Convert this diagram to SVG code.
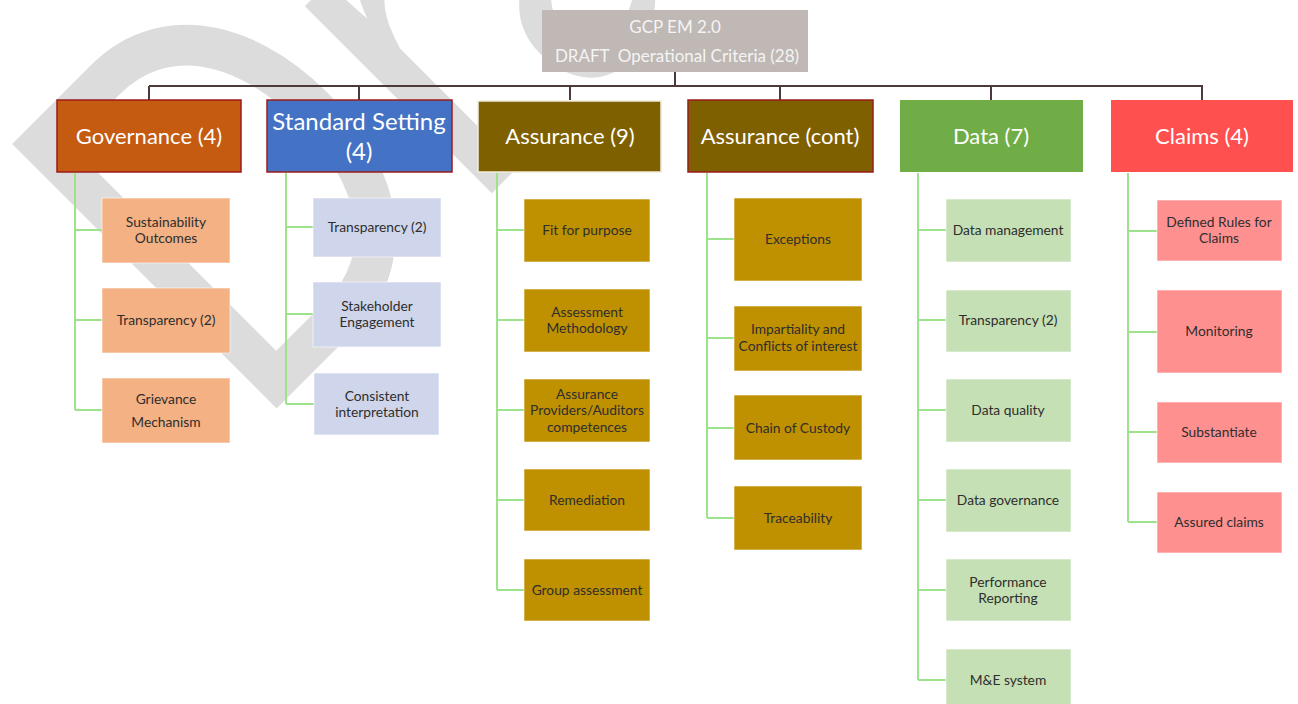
<svg xmlns="http://www.w3.org/2000/svg" width="1298" height="704" viewBox="0 0 1298 704">
<style>
text{font-family:Lato,"Open Sans","Liberation Sans",sans-serif;text-anchor:middle}
.wm{fill:#dcdcdc;font-size:522px;text-anchor:start}
.top rect{fill:#bfb8b5}
.top text{fill:#f4f4f4;font-size:17px}
.cat text{fill:#fff;font-size:22px}
.cat rect{stroke-width:1.5}
#standard text{font-size:24px}
.red{stroke:#9a1b1b}
.lt{stroke:#f0ecd8}
.sub rect{stroke:#ffffff;stroke-opacity:.6;stroke-width:1}
.sub text{fill:#2e2e2e;font-size:13.8px}
.gov rect{fill:#f4b183}
.std rect{fill:#cfd5ea}
.asr rect{fill:#bf9000}
.dat rect{fill:#c5e0b4}
.clm rect{fill:#ff9090}
.trunk{stroke:#4e3a3a;stroke-width:2;fill:none}
.br{stroke:#9ce38c;stroke-width:2;fill:none}
</style>
<text class="wm" transform="translate(275,410) rotate(-45) scale(0.8,1)" x="-45" y="0">Draft</text>

<g id="connectors">
<path class="trunk" d="M675,72V86M149,86H1203M149,86V100M359,86V100M570,86V100M780,86V100M991,86V100M1202,86V100"/>
<path class="br" d="M75,173V410M75,230H102M75,320H102M75,410H102"/>
<path class="br" d="M286,173V404M286,227H313M286,314H313M286,404H314"/>
<path class="br" d="M497,173V590M497,230H524M497,320H524M497,410H524M497,500H524M497,590H524"/>
<path class="br" d="M707,173V518M707,239H734M707,338H734M707,428H734M707,518H734"/>
<path class="br" d="M918,173V680M918,230H946M918,320H946M918,410H946M918,500H946M918,590H946M918,680H946"/>
<path class="br" d="M1128,173V522M1128,231H1157M1128,332H1157M1128,432H1157M1128,522H1157"/>
</g>

<g id="root" class="top"><rect x="542" y="10" width="266" height="62"/><text x="675" y="33">GCP EM 2.0</text><text x="677" y="62" xml:space="preserve">DRAFT  Operational Criteria (28)</text></g>

<g id="governance" class="cat"><rect class="red" x="57" y="100" width="184" height="72" fill="#c55a11"/><text x="149" y="144">Governance (4)</text></g>
<g id="standard" class="cat"><rect class="red" x="267" y="100" width="185" height="72" fill="#4472c4"/><text x="359" y="130">Standard Setting</text><text x="359" y="160">(4)</text></g>
<g id="assurance" class="cat"><rect class="lt" x="478" y="101" width="183" height="71" fill="#7f6000"/><text x="570" y="144">Assurance (9)</text></g>
<g id="assurance-cont" class="cat"><rect class="red" x="688" y="100" width="185" height="72" fill="#7f6000"/><text x="780" y="144">Assurance (cont)</text></g>
<g id="data" class="cat"><rect x="900" y="100" width="183" height="72" fill="#70ad47"/><text x="991" y="144">Data (7)</text></g>
<g id="claims" class="cat"><rect x="1111" y="100" width="182" height="72" fill="#ff5050"/><text x="1202" y="144">Claims (4)</text></g>

<g id="gov-1" class="sub gov"><rect x="102" y="198" width="128" height="65"/><text x="166" y="227">Sustainability</text><text x="166" y="243">Outcomes</text></g>
<g id="gov-2" class="sub gov"><rect x="102" y="288" width="128" height="65"/><text x="166" y="325">Transparency (2)</text></g>
<g id="gov-3" class="sub gov"><rect x="102" y="378" width="128" height="65"/><text x="166" y="404">Grievance</text><text x="166" y="427">Mechanism</text></g>

<g id="std-1" class="sub std"><rect x="313" y="198" width="128" height="59"/><text x="377" y="232">Transparency (2)</text></g>
<g id="std-2" class="sub std"><rect x="313" y="282" width="128" height="65"/><text x="377" y="311">Stakeholder</text><text x="377" y="327">Engagement</text></g>
<g id="std-3" class="sub std"><rect x="314" y="373" width="125" height="62"/><text x="377" y="401">Consistent</text><text x="377" y="417">interpretation</text></g>

<g id="asr-1" class="sub asr"><rect x="524" y="199" width="126" height="63"/><text x="587" y="235">Fit for purpose</text></g>
<g id="asr-2" class="sub asr"><rect x="524" y="289" width="126" height="63"/><text x="587" y="317">Assessment</text><text x="587" y="333">Methodology</text></g>
<g id="asr-3" class="sub asr"><rect x="524" y="379" width="126" height="63"/><text x="587" y="399">Assurance</text><text x="587" y="415">Providers/Auditors</text><text x="587" y="432">competences</text></g>
<g id="asr-4" class="sub asr"><rect x="524" y="469" width="126" height="62"/><text x="587" y="505">Remediation</text></g>
<g id="asr-5" class="sub asr"><rect x="524" y="559" width="126" height="62"/><text x="587" y="595">Group assessment</text></g>

<g id="asc-1" class="sub asr"><rect x="734" y="198" width="128" height="83"/><text x="798" y="244">Exceptions</text></g>
<g id="asc-2" class="sub asr"><rect x="734" y="306" width="128" height="65"/><text x="798" y="334">Impartiality and</text><text x="798" y="351">Conflicts of interest</text></g>
<g id="asc-3" class="sub asr"><rect x="734" y="395" width="128" height="65"/><text x="798" y="433">Chain of Custody</text></g>
<g id="asc-4" class="sub asr"><rect x="734" y="486" width="128" height="64"/><text x="798" y="523">Traceability</text></g>

<g id="dat-1" class="sub dat"><rect x="946" y="199" width="125" height="63"/><text x="1008" y="235">Data management</text></g>
<g id="dat-2" class="sub dat"><rect x="946" y="290" width="125" height="62"/><text x="1008" y="325">Transparency (2)</text></g>
<g id="dat-3" class="sub dat"><rect x="946" y="379" width="125" height="63"/><text x="1008" y="415">Data quality</text></g>
<g id="dat-4" class="sub dat"><rect x="946" y="469" width="125" height="63"/><text x="1008" y="505">Data governance</text></g>
<g id="dat-5" class="sub dat"><rect x="946" y="559" width="125" height="62"/><text x="1008" y="587">Performance</text><text x="1008" y="603">Reporting</text></g>
<g id="dat-6" class="sub dat"><rect x="946" y="649" width="125" height="62"/><text x="1008" y="685">M&amp;E system</text></g>

<g id="clm-1" class="sub clm"><rect x="1157" y="200" width="125" height="61"/><text x="1219" y="227">Defined Rules for</text><text x="1219" y="243">Claims</text></g>
<g id="clm-2" class="sub clm"><rect x="1157" y="290" width="125" height="83"/><text x="1219" y="336">Monitoring</text></g>
<g id="clm-3" class="sub clm"><rect x="1157" y="402" width="125" height="61"/><text x="1219" y="437">Substantiate</text></g>
<g id="clm-4" class="sub clm"><rect x="1157" y="492" width="125" height="61"/><text x="1219" y="527">Assured claims</text></g>
</svg>
